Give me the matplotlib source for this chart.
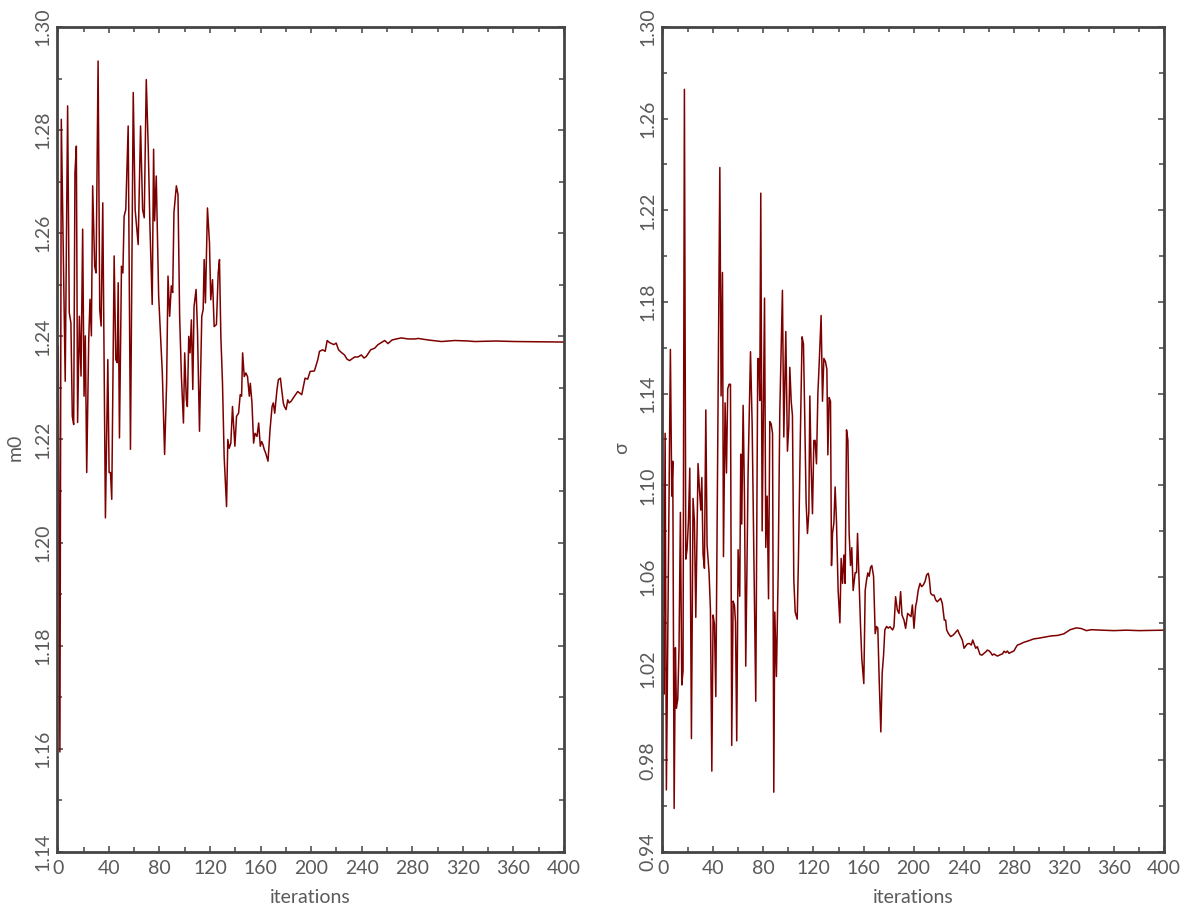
import matplotlib
matplotlib.use("Agg")
import matplotlib.pyplot as plt
from matplotlib.ticker import MultipleLocator, FormatStrFormatter, FixedLocator

# ---- data: m0 chain (left) ----
m0_iter = [0, 1.3, 2.4, 5.5, 7.4, 8.7, 10, 11.1, 12.2, 13.2, 14.3, 15.3, 16.7, 18, 19.3, 20.4,
           21.4, 22.5, 24.1, 25.1, 26.2, 27.2, 28.8, 29.9, 31.5, 32.8, 33.9, 35.2, 37.3, 39.2,
           40.2, 41.3, 42.3, 44.2, 45.5, 46.6, 47.4, 48.4, 50, 51.1, 52.1, 53.4, 55.3, 57.1,
           59.3, 60.8, 61.9, 63.2, 65.1, 66.7, 68, 69.6, 71.2, 72.5, 74.3, 75.4, 76.2, 77.5,
           79.4, 82.3, 84.1, 85.7, 86.8, 88.1, 89.4, 90.5, 91.5, 93.4, 94.7,
           96, 97.4, 99, 100, 101.3, 102.1, 103.2, 104.2, 105.3, 106.4, 107.4, 109, 110.1,
           111.7, 113.5, 114.6, 115.4, 116.4, 118, 119.6, 120.6, 122, 123.3, 125.1, 126.5,
           127.5, 128.6, 129.9, 131.2, 133.1, 134.1, 135.2, 136.5, 137.8, 138.6, 139.7, 141,
           142.6, 143.9, 145, 145.8, 147.1, 148.4, 149.7, 151.1, 151.9, 153.2, 154.5, 155.6,
           157.2, 158.5, 159.8, 160.9, 161.9, 163, 164, 165.9, 167.5, 169.1, 170.1, 171.2,
           173, 174.1, 175.7, 176.7, 178, 178.8, 180.2, 181.5, 182.6, 184.1, 185.7,
           186.8, 189.4, 192.6, 195.2, 197.3, 199.2, 202.6, 205.3, 206.6, 209.2, 211.1, 212.7,
           214.5, 218, 219.8, 221.7, 223.8, 226.4, 228.3, 230.4, 234.4, 237, 239.7, 241.8,
           243.6, 247.1, 250.2, 252.9, 255.5, 258.2, 260.8, 264, 267.4, 271.4, 276.7, 282,
           284.6, 292.6, 303.1, 313.7, 324.3, 329.6, 345.5, 361.4, 400]
m0_vals = [1.2381, 1.1594, 1.2821, 1.2313, 1.2847, 1.2446, 1.2426, 1.2245, 1.2229, 1.2717,
           1.2769, 1.2233, 1.2439, 1.2323, 1.2608, 1.2284, 1.2401, 1.2136, 1.2394, 1.2472,
           1.2401, 1.2692, 1.2536, 1.2523, 1.2934, 1.2452, 1.2420, 1.2659, 1.2048, 1.2355,
           1.2136, 1.2136, 1.2084, 1.2556, 1.2355, 1.2349, 1.2504, 1.2203, 1.2536, 1.2523,
           1.2633, 1.2646, 1.2808, 1.2181, 1.2873, 1.2646, 1.2614, 1.2578, 1.2808, 1.2646,
           1.2630, 1.2898, 1.2763, 1.2614, 1.2462, 1.2763, 1.2624, 1.2711, 1.2478, 1.2329,
           1.2171, 1.2310, 1.2517, 1.2439, 1.2498, 1.2485, 1.2640, 1.2692, 1.2675,
           1.2439, 1.2322, 1.2232, 1.2368, 1.2277, 1.2264, 1.2400, 1.2368, 1.2432, 1.2297,
           1.2458, 1.2491, 1.2413, 1.2216, 1.2439, 1.2452, 1.2549, 1.2465, 1.2649, 1.2581,
           1.2471, 1.2510, 1.2419, 1.2423, 1.2523, 1.2549, 1.2400, 1.2309, 1.2167, 1.2070,
           1.2200, 1.2183, 1.2193, 1.2264, 1.2232, 1.2187, 1.2245, 1.2251, 1.2287, 1.2284,
           1.2368, 1.2322, 1.2329, 1.2322, 1.2284, 1.2309, 1.2271, 1.2193, 1.2212, 1.2206,
           1.2232, 1.2187, 1.2196, 1.2190, 1.2180, 1.2174, 1.2158, 1.2219, 1.2264, 1.2271,
           1.2251, 1.2297, 1.2316, 1.2319, 1.2297, 1.2271, 1.2264, 1.2258, 1.2277, 1.2271,
           1.2274, 1.2280,
           1.2284, 1.2293, 1.2287, 1.2319, 1.2317, 1.2332, 1.2333, 1.2355, 1.2371, 1.2374,
           1.2371, 1.2392, 1.2388, 1.2384, 1.2387, 1.2374, 1.2369, 1.2364, 1.2356, 1.2353,
           1.2360, 1.2360, 1.2364, 1.2358, 1.2361, 1.2374, 1.2377, 1.2384, 1.2388, 1.2392,
           1.2386, 1.2393, 1.2395, 1.2397, 1.2395, 1.2395, 1.2396, 1.2393, 1.2390, 1.2392,
           1.2391, 1.2390, 1.2391, 1.2390, 1.2389]

# ---- data: sigma chain (right) ----
sig_iter = [0, 0.4, 1.5, 2.5, 5.7, 6.8, 7.6, 8.7, 9.7, 10.5, 11.6, 12.6, 13.7, 14.8, 15.8,
            16.9, 18, 19, 20.1, 21.2, 22.5, 23.8, 24.9, 26, 27.8, 28.9, 30, 30.8, 31.8, 32.9,
            34, 35, 36.6, 37.7, 38.8, 39.8, 40.9, 42, 45.2, 46.2, 47.3, 48.1, 49.4, 50.5,
            51.5, 52.6, 53.7, 54.7, 55.8, 56.9, 57.7, 58.7, 59.8, 61.1, 61.9, 62.7, 63.8,
            64.9, 65.9, 67.8, 69.7, 71, 72.3, 73.9, 75.5, 76.3, 77.1, 77.9, 79, 80.1, 80.9,
            81.9, 83, 84.1, 85.1, 86.2, 87.3, 88.3,
            89.1, 90.4, 91.8, 93.1, 95.2, 96.3, 97.9, 99.2, 100.3, 101.1, 102.2, 103.2,
            104.3, 105.4, 107, 108, 109.6, 110.9, 112, 113.1, 114.1, 115.2, 116.3, 117.1,
            118.1, 119.2, 120.3, 121.3, 122.4, 123.5, 124.5, 126.1, 127.2, 128.3, 129.6,
            130.7, 131.5, 132.5, 133.6, 134.4, 135.2, 136.3, 137.3, 138.4, 139.7, 141.1,
            142.1, 143.2, 144.3, 145.3, 146.4, 147.5, 148.5, 149.6, 150.6, 151.7, 153.3,
            154.4, 155.2, 156.2, 157.6, 158.6, 160.2, 161.3, 162.4, 163.4, 164.5, 165.6,
            166.6, 168, 169.3, 170.4, 171.4, 172.5, 173.8, 174.9, 176, 177, 178.4, 179.7,
            181.1, 183.2, 184.3, 185.6, 187, 188.3, 189.6, 190.7, 192.3, 193.6, 195.2, 196.6,
            197.9, 199, 200.3, 201.6, 202.4, 203.7, 205.1, 206.4, 207.7, 209.1, 210.4, 211.7,
            212.5, 213.6, 214.9, 216.3, 217.6, 218.9, 220.3, 221.6, 222.9, 224.5, 225.6,
            226.4, 227.7, 229.6, 231.7, 233.9, 235.2, 236.3, 237.6, 238.9, 240.3, 241.6,
            242.9, 244.5, 246.1, 247.2, 248.2, 249.6, 250.9, 252.2, 253, 254.6, 256.2, 257.6,
            258.9, 260.2, 261.6, 262.9, 264.2, 265.6, 266.9, 268.2, 269.6, 270.9, 272.2,
            273.6, 274.9, 276.2, 277.6, 278.9, 280.2, 281.5, 282.9, 284.5,
            288, 292, 296, 300, 305, 310, 315, 320, 325, 330, 334, 338, 342, 350, 360, 370,
            380, 390, 400]
sig_vals = [1.0424, 1.0088, 1.1227, 0.9671, 1.1593, 1.0953, 1.1105, 0.9590, 1.0292, 1.0027,
            1.0068, 1.0292, 1.0882, 1.0129, 1.0190, 1.2728, 1.0678, 1.0719, 1.0841, 1.1075,
            0.9895, 1.0943, 1.0841, 1.0424, 1.1095, 1.0983, 1.0892, 1.1034, 1.0699, 1.0638,
            1.1329, 1.0740, 1.0617, 1.0455, 0.9753, 1.0434, 1.0394, 1.0078, 1.2387, 1.1390,
            1.1929, 1.0689, 1.1360, 1.1054, 1.1421, 1.1441, 1.1441, 0.9865, 1.0495, 1.0475,
            1.0404, 0.9885, 1.0719, 1.0516, 1.1136, 1.0831, 1.1349, 1.0943, 1.0211, 1.1065,
            1.1583, 1.1268, 1.0740, 1.0058, 1.1553, 1.1553, 1.1370, 1.2275, 1.0801, 1.1370,
            1.1817, 1.0729, 1.0953, 1.0505, 1.1278, 1.1268, 1.1227, 0.9661,
            1.0447, 1.0166, 1.0619, 1.1320, 1.1851, 1.1211, 1.1671, 1.1149, 1.1258, 1.1515,
            1.1367, 1.1305, 1.0587, 1.0447, 1.0416, 1.0681, 1.1242, 1.1648, 1.1617, 1.1273,
            1.0930, 1.0790, 1.0884, 1.1390, 1.1086, 1.0876, 1.1196, 1.1196, 1.1094, 1.1398,
            1.1523, 1.1741, 1.1367, 1.1554, 1.1539, 1.1507, 1.1133, 1.1383, 1.1367, 1.0650,
            1.0790, 1.0837, 1.0993, 1.0837, 1.0541, 1.0400, 1.0681, 1.0572, 1.0696, 1.0572,
            1.1242, 1.1196, 1.0790, 1.0650, 1.0728, 1.0541, 1.0619, 1.0619, 1.0790, 1.0619,
            1.0384, 1.0244, 1.0135, 1.0541, 1.0587, 1.0618, 1.0603, 1.0642, 1.0650, 1.0603,
            1.0353, 1.0384, 1.0377, 1.0151, 0.9924, 1.0182, 1.0260, 1.0369, 1.0384, 1.0377,
            1.0383, 1.0369, 1.0383, 1.0514, 1.0456, 1.0441, 1.0536, 1.0434, 1.0412, 1.0376,
            1.0441, 1.0434, 1.0427, 1.0478, 1.0376, 1.0471, 1.0492, 1.0543, 1.0572, 1.0558,
            1.0565, 1.0580, 1.0609, 1.0616, 1.0594, 1.0529, 1.0521, 1.0521, 1.0500, 1.0492,
            1.0500, 1.0507, 1.0485, 1.0412, 1.0412, 1.0369, 1.0354, 1.0340, 1.0347, 1.0361,
            1.0369, 1.0354, 1.0340, 1.0325, 1.0289, 1.0299, 1.0308, 1.0310, 1.0303, 1.0325,
            1.0310, 1.0289, 1.0296, 1.0274, 1.0262, 1.0259, 1.0267, 1.0273, 1.0281, 1.0278,
            1.0270, 1.0259, 1.0264, 1.0259, 1.0255, 1.0258, 1.0262, 1.0264, 1.0276, 1.0270,
            1.0277, 1.0267, 1.0271, 1.0274, 1.0278, 1.0291, 1.0303, 1.0306,
            1.0315, 1.0322, 1.0330, 1.0333, 1.0338, 1.0343, 1.0345, 1.0352, 1.0370, 1.0378,
            1.0375, 1.0366, 1.0370, 1.0368, 1.0366, 1.0368, 1.0366, 1.0367, 1.0368]

x_ticks = list(range(0, 401, 40))
m0_yticks = [1.14, 1.16, 1.18, 1.20, 1.22, 1.24, 1.26, 1.28, 1.30]
sig_yticks = [0.94, 0.98, 1.02, 1.06, 1.10, 1.14, 1.18, 1.22, 1.26, 1.30]
x_label = "iterations"
left_ylabel = "m0"
right_ylabel = "σ"

LINE_COLOR = "#7d0000"
SPINE_COLOR = "#444444"
TEXT_COLOR = "#5a5a5a"

plt.rcParams['font.family'] = ['Lato', 'DejaVu Sans']

W, H = 1192, 913
fig = plt.figure(figsize=(W / 100, H / 100), dpi=100)


def make_axes(x0, x1, y0, y1):
    return fig.add_axes([x0 / W, (H - y1) / H, (x1 - x0) / W, (y1 - y0) / H])


def style(ax, yticks, ymin_step, ylabel, ylab_x):
    ax.set_xlim(-1, 400)
    ax.set_ylim(yticks[0], yticks[-1])
    ax.set_xticks(x_ticks)
    ax.xaxis.set_minor_locator(MultipleLocator(20))
    ax.yaxis.set_major_locator(FixedLocator(yticks))
    ax.yaxis.set_minor_locator(MultipleLocator(ymin_step))
    ax.yaxis.set_major_formatter(FormatStrFormatter('%.2f'))
    for s in ax.spines.values():
        s.set_color(SPINE_COLOR)
        s.set_linewidth(2.0)
    ax.tick_params(which='both', direction='in', top=True, right=True,
                   color=SPINE_COLOR, width=1.1, labelcolor=TEXT_COLOR, labelsize=14)
    ax.tick_params(which='major', length=4.5)
    ax.tick_params(which='minor', length=3.5)
    ax.tick_params(axis='x', pad=6)
    ax.tick_params(axis='y', pad=4)
    for lab in ax.get_yticklabels():
        lab.set_rotation(90)
        lab.set_va('center')
    ax.set_xlabel(x_label, fontsize=14, color=TEXT_COLOR)
    ax.xaxis.set_label_coords(0.5, -0.055)
    ax.xaxis.label.set_va('center')
    ax.set_ylabel(ylabel, fontsize=14, color=TEXT_COLOR)
    ax.yaxis.set_label_coords(ylab_x, 0.49)
    ax.yaxis.label.set_va('center')


ax1 = make_axes(57, 564, 27, 852)
ax1.plot(m0_iter, m0_vals, color=LINE_COLOR, lw=1.1)
style(ax1, m0_yticks, 0.01, left_ylabel, (15 - 57) / 507)

ax2 = make_axes(662, 1164, 27, 852)
ax2.plot(sig_iter, sig_vals, color=LINE_COLOR, lw=1.1)
style(ax2, sig_yticks, 0.02, right_ylabel, (622 - 662) / 502)

fig.savefig("out.png", dpi=100)
